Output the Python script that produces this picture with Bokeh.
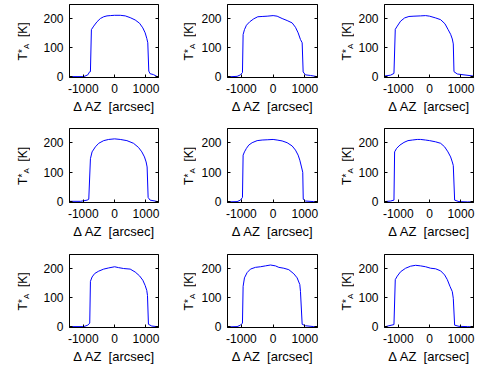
import numpy as np
from bokeh.plotting import figure
from bokeh.layouts import gridplot
from bokeh.models import Range1d, FixedTicker, LinearAxis, Label
from bokeh.embed import file_html
from bokeh.resources import INLINE

# ---- data ----
az_r1c1 = [-1440, -1200, -984, -857, -794, -772, -741, -667, -561, -455, -349, -243, -138, 0, 180, 339, 497, 656, 794, 899, 974, 1026, 1058, 1090, 1132, 1238, 1344, 1400]
ta_r1c1 = [1, 1, 1, 7, 18, 18, 162, 174, 189, 200, 206, 209, 210, 211, 211, 209, 203, 195, 184, 168, 151, 132, 117, 20, 11, 8, 2, 0]

az_r1c2 = [-1440, -1137, -1032, -968, -947, -905, -842, -737, -611, -484, -347, -189, 0, 126, 284, 442, 600, 705, 789, 863, 916, 947, 1021, 1179, 1337, 1400]
ta_r1c2 = [0, 2, 7, 15, 145, 162, 177, 189, 199, 206, 207, 208, 210, 208, 200, 193, 185, 170, 151, 128, 117, 17, 7, 5, 2, 0]

az_r1c3 = [-1440, -1245, -1138, -1096, -1032, -926, -798, -660, -500, -287, -128, 0, 191, 351, 489, 585, 670, 723, 755, 777, 883, 1096, 1400]
ta_r1c3 = [3, 6, 12, 163, 174, 191, 202, 207, 208, 209, 210, 208, 202, 196, 182, 163, 146, 130, 113, 18, 10, 7, 3]

az_r2c1 = [-1440, -1090, -878, -825, -772, -720, -614, -508, -349, -190, 0, 180, 392, 603, 762, 868, 952, 1005, 1037, 1069, 1132, 1291, 1400]
ta_r2c1 = [2, 2, 6, 9, 146, 169, 186, 198, 207, 211, 213, 211, 207, 198, 184, 169, 152, 135, 118, 15, 6, 3, 0]

az_r2c2 = [-1440, -1137, -1032, -968, -947, -905, -842, -768, -663, -505, -347, -168, 0, 126, 284, 442, 600, 705, 789, 842, 895, 935, 950, 1021, 1284, 1400]
ta_r2c2 = [0, 1, 6, 15, 158, 169, 181, 192, 200, 207, 209, 210, 211, 209, 206, 200, 189, 175, 158, 141, 118, 100, 9, 3, 1, 0]

az_r2c3 = [-1440, -1245, -1138, -1117, -1053, -947, -819, -691, -553, -394, -287, -128, 0, 191, 351, 479, 585, 670, 723, 755, 798, 936, 1202, 1400]
ta_r2c3 = [1, 3, 6, 169, 181, 192, 201, 207, 209, 211, 211, 209, 207, 203, 198, 186, 169, 152, 135, 123, 6, 1, 0, 0]

az_r3c1 = [-1440, -984, -857, -794, -772, -720, -635, -508, -349, -190, 0, 127, 286, 497, 656, 794, 899, 974, 1026, 1048, 1079, 1185, 1344, 1400]
ta_r3c1 = [1, 1, 6, 13, 156, 171, 183, 191, 198, 202, 206, 203, 200, 198, 188, 175, 160, 142, 125, 108, 9, 3, 1, 0]

az_r3c2 = [-1440, -1137, -1032, -968, -947, -905, -821, -716, -558, -400, -242, -84, 74, 179, 337, 495, 653, 758, 842, 863, 916, 1021, 1284, 1400]
ta_r3c2 = [0, 1, 6, 13, 139, 168, 186, 198, 204, 206, 209, 212, 209, 204, 201, 196, 182, 168, 145, 121, 9, 4, 1, 0]

az_r3c3 = [-1440, -1298, -1138, -1096, -1032, -926, -766, -606, -447, -287, -128, 32, 191, 351, 479, 564, 649, 723, 755, 798, 936, 1202, 1362, 1400]
ta_r3c3 = [0, 4, 8, 162, 174, 189, 201, 208, 211, 209, 206, 201, 199, 192, 178, 162, 139, 121, 98, 6, 2, 1, 0, 0]

x_ticks = [-1000, 0, 1000]
x_tick_labels = ["-1000", "0", "1000"]
y_ticks = [0, 100, 200]
y_tick_labels = ["0", "100", "200"]
x_label = "\u0394 AZ \u00a0[arcsec]"

X0, X1 = -1440, 1400
Y0, Y1 = -2, 248

FONT = "Liberation Sans"
BLUE = "#0000ff"

rows = [
    [(az_r1c1, ta_r1c1), (az_r1c2, ta_r1c2), (az_r1c3, ta_r1c3)],
    [(az_r2c1, ta_r2c1), (az_r2c2, ta_r2c2), (az_r2c3, ta_r2c3)],
    [(az_r3c1, ta_r3c1), (az_r3c2, ta_r3c2), (az_r3c3, ta_r3c3)],
]
# (top border, frame height, bottom border) per row
row_geom = [(4, 73, 49), (2, 74, 50), (2, 73, 40)]
# (label strip width, left border, frame width, right border) per column
LW = 30
col_geom = [(LW, 69 - LW, 89, 8), (LW, 61 - LW, 90, 7), (LW, 60 - LW, 89, 9)]


def make_label(rg, cg):
    """Narrow strip holding the rotated y-axis label T*_A  [K]."""
    top, fh, bottom = rg
    w = cg[0]
    p = figure(width=w, height=top + fh + bottom, output_backend="svg",
               toolbar_location=None,
               x_range=Range1d(0, w), y_range=Range1d(0, fh),
               x_axis_location=None, y_axis_location=None,
               min_border_left=0, min_border_right=0,
               min_border_top=top, min_border_bottom=bottom,
               background_fill_color="white", border_fill_color="white")
    p.xgrid.visible = False
    p.ygrid.visible = False
    p.outline_line_color = None
    cy = fh / 2.0                   # box centre, measured up from frame bottom
    bx = 22                         # text baseline, px from strip left
    common = dict(angle=np.pi / 2, text_align="left", text_baseline="alphabetic",
                  text_font=FONT, text_color="black")
    p.add_layout(Label(x=bx, y=cy - 19.5, text="T", text_font_size="12px", **common))
    p.add_layout(Label(x=bx, y=cy - 12, text="*", text_font_size="10px", **common))
    p.add_layout(Label(x=bx + 4, y=cy - 8, text="A", text_font_size="8px", **common))
    p.add_layout(Label(x=bx, y=cy + 4, text="[K]", text_font_size="12px", **common))
    return p


def make(az, ta, rg, cg):
    top, fh, bottom = rg
    _, left, fw, right = cg
    p = figure(width=left + fw + right, height=top + fh + bottom, output_backend="svg",
               toolbar_location=None,
               x_range=Range1d(X0, X1), y_range=Range1d(Y0, Y1),
               min_border_left=left, min_border_right=right,
               min_border_top=top, min_border_bottom=bottom,
               background_fill_color="white", border_fill_color="white")
    p.xgrid.visible = False
    p.ygrid.visible = False
    p.outline_line_color = "black"
    p.outline_line_width = 1
    p.outline_line_alpha = 1

    p.line(az, ta, line_color=BLUE, line_width=1)

    xa = p.xaxis[0]
    xa.ticker = FixedTicker(ticks=x_ticks)
    xa.major_label_overrides = dict(zip(x_ticks, x_tick_labels))
    xa.axis_label = x_label
    ya = p.yaxis[0]
    ya.ticker = FixedTicker(ticks=y_ticks)
    ya.major_label_overrides = dict(zip(y_ticks, y_tick_labels))

    for ax in (xa, ya):
        ax.major_tick_in = 3
        ax.major_tick_out = 0
        ax.minor_tick_line_color = None
        ax.axis_line_color = "black"
        ax.major_tick_line_color = "black"
        ax.major_label_text_font = FONT
        ax.major_label_text_font_size = "12px"
        ax.major_label_text_color = "black"
        ax.major_label_standoff = 6
        ax.axis_label_text_font = FONT
        ax.axis_label_text_font_size = "13px"
        ax.axis_label_text_font_style = "normal"
        ax.axis_label_text_color = "black"
        ax.axis_label_standoff = 3

    ra = LinearAxis(ticker=FixedTicker(ticks=y_ticks),
                    major_label_overrides={t: "" for t in y_ticks})
    ra.major_tick_in = 3
    ra.major_tick_out = 0
    ra.major_label_standoff = 0
    ra.minor_tick_line_color = None
    ra.axis_line_color = "black"
    p.add_layout(ra, "right")
    return p


grid = []
for r, rg in zip(rows, row_geom):
    row = []
    for (az, ta), cg in zip(r, col_geom):
        row.append(make_label(rg, cg))
        row.append(make(az, ta, rg, cg))
    grid.append(row)

layout = gridplot(grid, toolbar_location=None)

with open("out.html", "w") as f:
    f.write(file_html(layout, INLINE))
